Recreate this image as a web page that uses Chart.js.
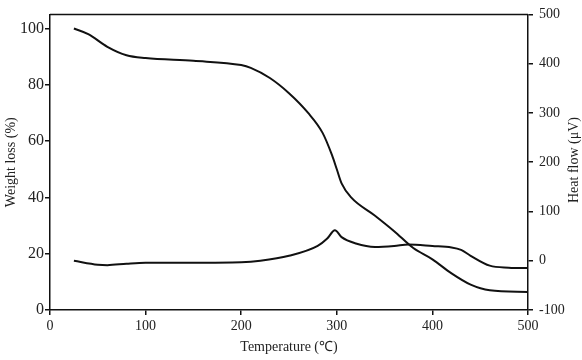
<!DOCTYPE html>
<html>
<head>
<meta charset="utf-8">
<script src="https://cdn.jsdelivr.net/npm/chart.js@4"></script>
<style>
  html, body { margin: 0; padding: 0; background: #fff; }
  #wrap { width: 582px; height: 360px; }
</style>
</head>
<body>
<div id="wrap"><canvas id="myChart" width="582" height="360"></canvas></div>
<script>
// temperature (°C) and weight loss (%) - TG curve
const tgTemp   = [25, 40, 60, 80, 100, 150, 200, 210, 230, 250, 270, 285, 295, 300, 305, 315, 340, 360, 380, 400, 420, 440, 460, 500];
const tgWeight = [100, 98, 93.5, 90.5, 89.5, 88.5, 87, 86, 82.4, 77, 70, 63, 55, 50, 45, 40, 33.5, 28, 22, 18, 13, 9, 7, 6.4];

// temperature (°C) and heat flow (µV) - DTA curve
const dtaTemp = [25, 50, 60, 80, 100, 150, 200, 220, 250, 280, 290, 298, 305, 320, 340, 360, 375, 400, 420, 430, 440, 460, 480, 500];
const dtaHeat = [0, -8, -9, -6, -4, -4, -3, 0, 10, 30, 45, 62, 48, 35, 28, 30, 33, 30, 27, 22, 10, -10, -14, -15];

const xTicks = [0, 100, 200, 300, 400, 500];
const leftTicks = [0, 20, 40, 60, 80, 100];
const rightTicks = [-100, 0, 100, 200, 300, 400, 500];

const toPoints = (xs, ys) => xs.map((x, i) => ({ x: x, y: ys[i] }));

const txt = '#222';
const serif = 'Liberation Serif';

// top border of the plot box + right axis title (reads bottom to top)
const extras = {
  id: 'extras',
  afterDraw(chart) {
    const a = chart.chartArea;
    const c = chart.ctx;
    c.save();
    c.strokeStyle = '#111';
    c.lineWidth = 1.5;
    c.beginPath();
    c.moveTo(a.left, a.top);
    c.lineTo(a.right, a.top);
    c.stroke();
    c.translate(574, 160);
    c.rotate(-Math.PI / 2);
    c.fillStyle = txt;
    c.font = '14px "' + serif + '"';
    c.textAlign = 'center';
    c.textBaseline = 'middle';
    c.fillText('Heat flow (μV)', 0, 0);
    c.restore();
  }
};

const ctx = document.getElementById('myChart').getContext('2d');
const myChart = new Chart(ctx, {
  type: 'line',
  data: {
    datasets: [{
      data: toPoints(tgTemp, tgWeight),
      yAxisID: 'y',
      borderColor: '#111',
      borderWidth: 2,
      pointRadius: 0,
      cubicInterpolationMode: 'monotone'
    }, {
      data: toPoints(dtaTemp, dtaHeat),
      yAxisID: 'y2',
      borderColor: '#111',
      borderWidth: 2,
      pointRadius: 0,
      cubicInterpolationMode: 'monotone'
    }]
  },
  options: {
    responsive: false,
    animation: false,
    layout: { padding: { top: 13, left: 0, right: 0, bottom: 0 } },
    plugins: { legend: { display: false }, tooltip: { enabled: false } },
    scales: {
      x: {
        type: 'linear',
        min: 0, max: 500,
        afterBuildTicks: s => { s.ticks = xTicks.map(v => ({ value: v })); },
        afterFit: s => { s.height = 50; },
        border: { color: '#111', width: 1.5 },
        grid: { drawOnChartArea: false, tickLength: 5, color: '#111', lineWidth: 1.5 },
        ticks: { color: txt, font: { family: serif, size: 14 }, padding: 3, maxRotation: 0 },
        title: { display: true, text: 'Temperature (℃)', color: txt, font: { family: serif, size: 14 }, padding: { top: 3 } }
      },
      y: {
        position: 'left',
        min: 0, max: 105,
        afterBuildTicks: s => { s.ticks = leftTicks.map(v => ({ value: v })); },
        afterFit: s => { s.width = 50; },
        border: { color: '#111', width: 1.5 },
        grid: { drawOnChartArea: false, tickLength: 5, color: '#111', lineWidth: 1.5 },
        ticks: { color: txt, font: { family: serif, size: 16 }, padding: 1 },
        title: { display: true, text: 'Weight loss (%)', color: txt, font: { family: serif, size: 14 }, padding: { top: 3 } }
      },
      y2: {
        position: 'right',
        min: -100, max: 500,
        afterBuildTicks: s => { s.ticks = rightTicks.map(v => ({ value: v })); },
        afterFit: s => { s.width = 54; },
        border: { color: '#111', width: 1.5 },
        grid: { drawOnChartArea: false, tickLength: 5, color: '#111', lineWidth: 1.5 },
        ticks: { color: txt, font: { family: serif, size: 14 }, padding: 6 }
      }
    }
  },
  plugins: [extras]
});
</script>
</body>
</html>
